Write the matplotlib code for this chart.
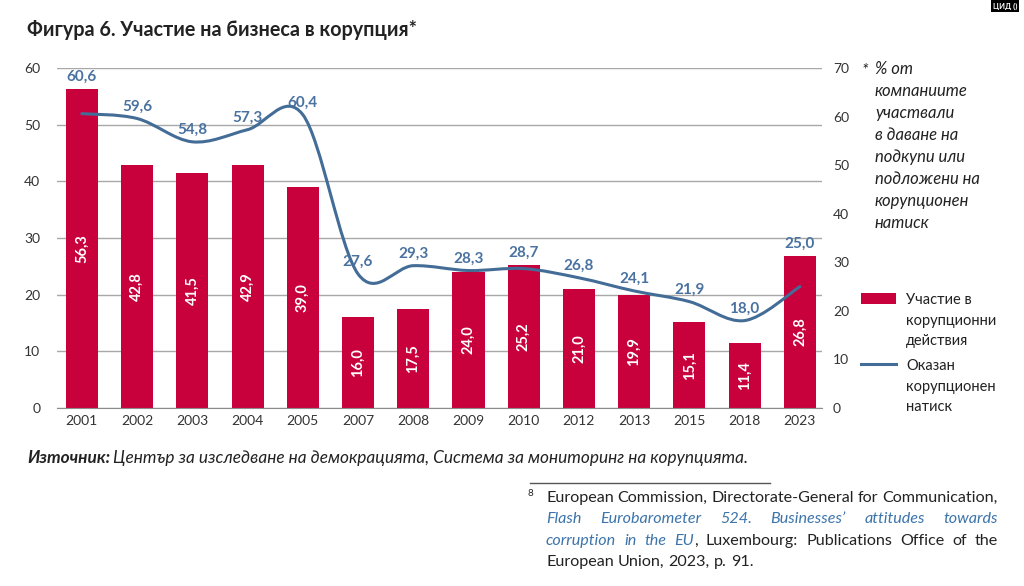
import matplotlib
matplotlib.use('Agg')
import matplotlib.pyplot as plt
from matplotlib.path import Path
from matplotlib.patches import PathPatch, Patch
from matplotlib.lines import Line2D
import numpy as np

# ---------------- data ----------------
years = ['2001', '2002', '2003', '2004', '2005', '2007', '2008', '2009',
         '2010', '2012', '2013', '2015', '2018', '2023']
participation = [56.3, 42.8, 41.5, 42.9, 39.0, 16.0, 17.5, 24.0, 25.2,
                 21.0, 19.9, 15.1, 11.4, 26.8]
pressure = [60.6, 59.6, 54.8, 57.3, 60.4, 27.6, 29.3, 28.3, 28.7, 26.8,
            24.1, 21.9, 18.0, 25.0]
left_ticks = [0, 10, 20, 30, 40, 50, 60]
right_ticks = [0, 10, 20, 30, 40, 50, 60, 70]
legend_labels = ['Участие в\nкорупционни\nдействия', 'Оказан\nкорупционен\nнатиск']

BAR = '#C8003C'
LINE = '#436C96'
LABEL_BLUE = '#4A72A0'
TXT = '#222222'
TICK = '#333333'
GRID = '#A8A8A8'

W, H = 1024, 586
plt.rcParams['font.family'] = ['Lato', 'DejaVu Sans']
fig = plt.figure(figsize=(W / 100, H / 100), dpi=100)


def px(x, y):
    return (x / W, 1 - y / H)


def fmt(v):
    return f'{v:.1f}'.replace('.', ',')


# ---------------- axes ----------------
ax = fig.add_axes([57 / W, 1 - 408 / H, (822 - 57) / W, (408 - 68) / H])
x = np.arange(len(years))
ax.bar(x, participation, width=0.58, color=BAR, zorder=2)
ax.set_xlim(-0.45, len(years) - 0.6)
ax.set_ylim(0, 60)
ax.set_yticks(left_ticks)
ax.set_xticks(x)
ax.set_xticklabels(years)
ax.yaxis.grid(True, color=GRID, lw=1)
ax.set_axisbelow(True)
for s in ['top', 'right', 'left']:
    ax.spines[s].set_visible(False)
ax.spines['bottom'].set_color('#8C8C8C')
ax.tick_params(axis='both', length=0, labelsize=10, labelcolor=TICK)
ax.tick_params(axis='y', pad=12)
ax.tick_params(axis='x', pad=5)

for xi, v in zip(x, participation):
    ax.text(xi, v / 2, fmt(v), rotation=90, ha='center', va='center',
            color='white', fontsize=10.5, fontweight='bold', zorder=3)

ax2 = ax.twinx()
ax2.set_ylim(0, 70)
ax2.set_yticks(right_ticks)
for s in ['top', 'right', 'left', 'bottom']:
    ax2.spines[s].set_visible(False)
ax2.tick_params(axis='y', length=0, labelsize=10, labelcolor=TICK, pad=8)

# smoothed line (Catmull-Rom as cubic Bezier, Excel-like smoothing)
P = np.column_stack([x, pressure]).astype(float)
n = len(P)
verts = [tuple(P[0])]
codes = [Path.MOVETO]
for i in range(n - 1):
    p0 = P[i - 1] if i > 0 else P[i]
    p1 = P[i]
    p2 = P[i + 1]
    p3 = P[i + 2] if i + 2 < n else P[i + 1]
    c1 = p1 + (p2 - p0) / 6.0
    c2 = p2 - (p3 - p1) / 6.0
    verts += [tuple(c1), tuple(c2), tuple(p2)]
    codes += [Path.CURVE4] * 3
ax2.add_patch(PathPatch(Path(verts, codes), fill=False, edgecolor=LINE,
                        lw=2.2, capstyle='round', zorder=4))

for xi, v, b in zip(x, pressure, participation):
    top = max(v, b * 70 / 60)
    ax2.annotate(fmt(v), (xi, top), xytext=(0, 12), textcoords='offset pixels',
                 ha='center', va='center', color=LABEL_BLUE, fontsize=11,
                 fontweight='bold', zorder=5)

# ---------------- legend ----------------
handles = [Patch(facecolor=BAR, edgecolor='none'),
           Line2D([], [], color=LINE, lw=2.2)]
leg = fig.legend(handles, legend_labels, loc='upper left',
                 bbox_to_anchor=px(861, 293), frameon=False, fontsize=10.5,
                 handlelength=2.4, handleheight=0.75, labelspacing=0.75,
                 handletextpad=0.7, borderpad=0, borderaxespad=0)
for t in leg.get_texts():
    t.set_color(TXT)
    t.set_linespacing(1.6)
try:
    for col in leg._legend_handle_box.get_children():
        for item in col.get_children():
            item.align = 'top'
except Exception:
    pass

# ---------------- texts ----------------
fig.text(*px(27, 30), 'Фигура 6. Участие на бизнеса в корупция*', ha='left',
         va='center', fontsize=14.2, fontweight='bold', color=TXT)

fig.text(*px(1005, 6), 'ЦИД ()', ha='center', va='center', fontsize=5.5,
         fontweight='bold', color='white',
         bbox=dict(boxstyle='square,pad=0.3', facecolor='black', edgecolor='none'))

fig.text(*px(862, 70), '*', ha='left', va='center', fontsize=12,
         style='italic', color=TXT)
fig.text(*px(875, 61), '% от\nкомпаниите\nучаствали\nв даване на\nподкупи или\n'
         'подложени на\nкорупционен\nнатиск', ha='left', va='top', fontsize=12,
         style='italic', color=TXT, linespacing=1.46)

renderer = fig.canvas.get_renderer()


def width_of(t):
    return t.get_window_extent(renderer).width


s1 = fig.text(*px(27, 458), 'Източник:', ha='left', va='center', fontsize=12.4,
              style='italic', fontweight='bold', color=TXT)
w1 = width_of(s1)
fig.text((27 + w1 + 3) / W, 1 - 458 / H,
         'Център за изследване на демокрацията, Система за мониторинг на корупцията.',
         ha='left', va='center', fontsize=12.4, style='italic', color=TXT)

fig.add_artist(Line2D([530 / W, 770 / W], [1 - 483 / H, 1 - 483 / H],
                      color='#555555', lw=1))
fig.text(*px(530, 494), '8', ha='center', va='center', fontsize=7, color=TXT)

R = dict(color=TXT, style='normal')
I = dict(color='#3C74AA', style='italic')
FN = 11.6

_probe_a = fig.text(0, 0, 'a', fontsize=FN)
_probe_b = fig.text(0, 0, 'a a', fontsize=FN)
SPACE = width_of(_probe_b) - 2 * width_of(_probe_a)
_probe_a.remove()
_probe_b.remove()


def place_line(words, y, x0, x1, justify=True):
    # words: list of lists of (text, style)
    arts = []
    widths = []
    for w in words:
        pieces = []
        tot = 0
        for txt, st in w:
            t = fig.text(0, 1 - y / H, txt, ha='left', va='center',
                         fontsize=FN, **st)
            ww = width_of(t)
            pieces.append((t, ww))
            tot += ww
        arts.append(pieces)
        widths.append(tot)
    if justify and len(words) > 1:
        gap = (x1 - x0 - sum(widths)) / (len(words) - 1)
    else:
        gap = SPACE
    cx = x0
    for pieces, tw in zip(arts, widths):
        xx = cx
        for t, ww in pieces:
            t.set_x(xx / W)
            xx += ww
        cx += tw + gap


def words_of(txt, st):
    return [[(w, st)] for w in txt.split(' ')]


line1 = words_of('European Commission, Directorate-General for Communication,', R)
line2 = words_of('Flash Eurobarometer 524. Businesses’ attitudes towards', I)
line3 = words_of('corruption in the', I) + [[('EU', I), (',', R)]] + \
    words_of('Luxembourg: Publications Office of the', R)
line4 = words_of('European Union, 2023, p. 91.', R)

place_line(line1, 498, 546, 998)
place_line(line2, 519, 546, 998)
place_line(line3, 541, 546, 998)
place_line(line4, 562, 546, 998, justify=False)

fig.savefig('out.png', dpi=100)
